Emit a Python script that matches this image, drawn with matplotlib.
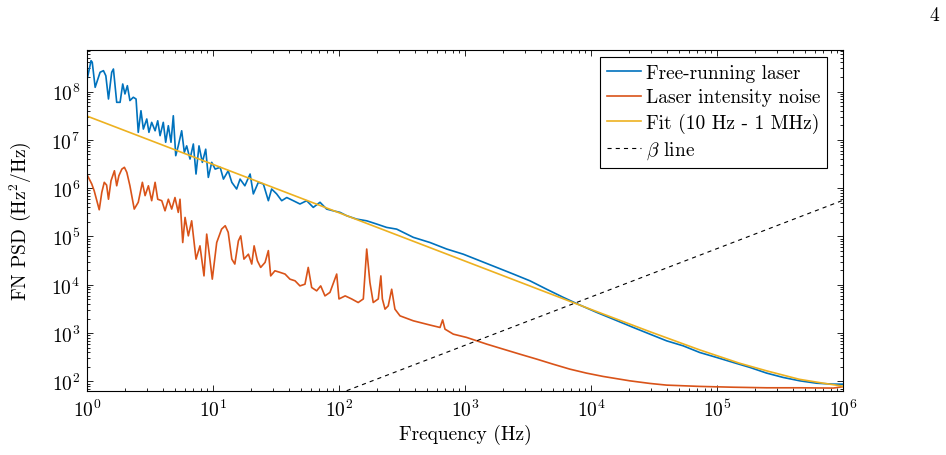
import numpy as np
import matplotlib
matplotlib.use("Agg")
import matplotlib.pyplot as plt
from matplotlib.ticker import LogLocator, NullFormatter

# ---------- data ----------
free_f = [1.01, 1.076, 1.10, 1.16, 1.22, 1.27, 1.35, 1.41, 1.48, 1.57, 1.62, 1.72, 1.83, 1.92,
          2.00, 2.09, 2.19, 2.33, 2.45, 2.55, 2.68, 2.80, 2.98, 3.10, 3.26, 3.47, 3.64, 3.80,
          4.03, 4.21, 4.42, 4.64, 4.84, 5.06, 5.30, 5.64, 5.92, 6.18, 6.57, 6.98, 7.33, 7.74,
          8.23, 8.75, 9.18, 9.77, 10.4, 11.4, 12.1, 13.2, 14.1, 15.4, 16.4, 17.9, 19.7, 20.9,
          22.9, 25.1, 27.5, 29.2, 32.0, 35.1, 38.5, 43.4, 49.0, 55.4, 62.5, 70.7, 79.8, 90.1,
          102, 115, 138, 166, 199, 239, 287, 389, 528, 716, 970, 1315, 1785, 2420, 3280,
          4450, 6030, 8200, 11100, 15000, 21700, 29400, 39900, 54000, 73000, 99500, 135000,
          183000, 248000, 336000, 456000, 618000, 840000, 1000000]
free_psd = [1.97e8, 4.34e8, 4.03e8, 1.22e8, 1.82e8, 2.50e8, 2.70e8, 2.12e8, 7.0e7, 2.50e8,
            2.92e8, 5.97e7, 5.97e7, 1.43e8, 8.9e7, 1.32e8, 6.5e7, 7.6e7, 7.0e7, 1.43e7,
            4.0e7, 1.67e7, 2.70e7, 1.43e7, 2.30e7, 1.54e7, 2.48e7, 1.22e7, 2.30e7, 8.9e6,
            1.96e7, 8.9e6, 3.15e7, 4.7e6, 7.5e6, 1.54e7, 5.5e6, 7.5e6, 4.0e6, 8.2e6,
            1.96e6, 7.5e6, 3.42e6, 6.4e6, 1.67e6, 3.42e6, 2.48e6, 2.70e6, 1.54e6, 2.29e6,
            1.32e6, 9.6e5, 1.54e6, 1.12e6, 1.96e6, 7.6e5, 1.32e6, 1.22e6, 5.5e5, 9.6e5,
            7.6e5, 5.5e5, 6.4e5, 5.5e5, 4.7e5, 5.5e5, 4.0e5, 5.1e5, 3.69e5, 3.40e5,
            3.15e5, 2.69e5, 2.29e5, 2.11e5, 1.81e5, 1.54e5, 1.42e5, 9.6e4, 7.5e4, 5.5e4,
            4.3e4, 3.14e4, 2.29e4, 1.67e4, 1.21e4, 8.1e3, 5.5e3, 3.80e3, 2.69e3, 1.95e3,
            1.31e3, 953, 693, 546, 398, 314, 247, 195, 149, 121, 103, 92, 88, 88]

rin_f = [1.01, 1.09, 1.14, 1.25, 1.31, 1.37, 1.43, 1.48, 1.55, 1.65, 1.72, 1.79, 1.89, 1.98,
         2.07, 2.19, 2.37, 2.55, 2.75, 2.89, 3.07, 3.26, 3.47, 3.64, 3.92, 4.16, 4.42, 4.70,
         4.99, 5.30, 5.47, 5.75, 6.00, 6.37, 6.77, 7.33, 7.88, 8.48, 8.91, 9.30, 9.87, 10.7,
         11.7, 12.5, 13.2, 14.1, 14.9, 15.9, 16.6, 17.6, 19.1, 20.3, 21.2, 22.5, 23.9, 25.9,
         27.5, 28.7, 31.0, 34.0, 37.3, 40.8, 44.8, 49.0, 53.7, 57.0, 60.7, 66.5, 71.6, 77.4,
         84.8, 95.9, 100, 112, 126, 142, 156, 166, 176, 187, 205, 215, 221, 232, 246, 262,
         278, 305, 389, 528, 634, 665, 694, 808, 1030, 1490, 2010, 2730, 3710, 5000, 6800,
         9200, 12500, 20400, 29400, 39900, 73000, 135000, 248000, 456000, 840000, 1000000]
rin_psd = [1.81e6, 1.22e6, 8.8e5, 3.57e5, 8.2e5, 1.32e6, 1.16e6, 5.9e5, 1.42e6, 2.29e6,
           1.12e6, 1.81e6, 2.48e6, 2.70e6, 2.12e6, 1.12e6, 3.69e5, 5.1e5, 1.32e6, 7.0e5,
           1.12e6, 5.5e5, 1.32e6, 5.9e5, 5.5e5, 3.40e5, 5.9e5, 3.69e5, 6.4e5, 3.15e5,
           5.9e5, 7.5e4, 2.48e5, 1.03e5, 2.11e5, 3.40e4, 6.4e4, 1.53e4, 1.12e5, 4.7e4,
           1.31e4, 7.5e4, 1.42e5, 1.67e5, 1.22e5, 3.40e4, 2.69e4, 8.1e4, 1.03e5, 3.40e4,
           4.3e4, 2.69e4, 6.4e4, 3.14e4, 2.29e4, 2.91e4, 5.1e4, 1.53e4, 1.95e4, 1.81e4,
           1.67e4, 1.31e4, 1.21e4, 9.5e3, 1.03e4, 2.29e4, 8.8e3, 7.5e3, 9.5e3, 5.9e3,
           6.97e3, 1.67e4, 5.1e3, 5.9e3, 5.1e3, 4.3e3, 5.1e3, 5.5e4, 1.12e4, 4.3e3,
           5.1e3, 1.53e4, 5.1e3, 3.14e3, 3.67e3, 8.1e3, 3.14e3, 2.28e3, 1.80e3, 1.47e3,
           1.31e3, 1.88e3, 1.21e3, 953, 815, 592, 467, 367, 290, 228, 180, 149, 127, 103,
           91, 84, 79, 76, 74, 74, 73, 78]

fit_f = [1, 10, 100, 1e3, 1e4, 3e4, 7.3e4, 1.5e5, 2.5e5, 4.5e5, 7e5, 1e6]
fit_psd = [3.1e7, 3.1e6, 3.1e5, 3.1e4, 3.1e3, 1.05e3, 450, 240, 165, 111, 92, 80]

beta_f = [1e2, 1e6]
beta_psd = [56, 5.6e5]

labels = ['Free-running laser', 'Laser intensity noise', 'Fit (10 Hz - 1 MHz)', r'$\beta$ line']

# ---------- style ----------
plt.rcParams['font.family'] = 'serif'
plt.rcParams['font.serif'] = ['cmr10']
plt.rcParams['mathtext.fontset'] = 'cm'
plt.rcParams['axes.formatter.use_mathtext'] = True
plt.rcParams['font.size'] = 14

fig = plt.figure(figsize=(9.46, 4.56), dpi=100)
ax = fig.add_axes([0.092, 0.140, 0.799, 0.748])

ax.plot(free_f, free_psd, color='#0072BD', lw=1.2, label=labels[0])
ax.plot(rin_f, rin_psd, color='#D95319', lw=1.2, label=labels[1])
ax.plot(fit_f, fit_psd, color='#EDB120', lw=1.2, label=labels[2])
ax.plot(beta_f, beta_psd, color='black', lw=0.8, ls=(0, (3.7, 3.7)), label=labels[3])

ax.set_xscale('log')
ax.set_yscale('log')
ax.set_xlim(1, 1e6)
ax.set_ylim(63, 7.2e8)

ax.xaxis.set_major_locator(LogLocator(base=10, numticks=20))
ax.yaxis.set_major_locator(LogLocator(base=10, numticks=20))
ax.xaxis.set_minor_locator(LogLocator(base=10, subs=np.arange(2, 10), numticks=20))
ax.yaxis.set_minor_locator(LogLocator(base=10, subs=np.arange(2, 10), numticks=20))
ax.xaxis.set_minor_formatter(NullFormatter())
ax.yaxis.set_minor_formatter(NullFormatter())

ax.tick_params(which='both', direction='in', top=True, right=True, width=0.6)
ax.tick_params(which='major', length=4.5, pad=5)
ax.tick_params(which='minor', length=2.5)
for s in ax.spines.values():
    s.set_linewidth(0.8)

ax.set_xlabel('Frequency (Hz)', labelpad=3)
ax.set_ylabel(r'FN PSD (Hz$^2$/Hz)', labelpad=13)

leg = ax.legend(loc='upper right', bbox_to_anchor=(0.979, 0.979), borderaxespad=0,
                fancybox=False, framealpha=1, edgecolor='black',
                handlelength=1.75, handletextpad=0.25, labelspacing=0.33, borderpad=0.35)
leg.get_frame().set_linewidth(0.8)

fig.text(0.993, 0.985, '4', ha='right', va='top')

fig.savefig('out.png', dpi=100)
